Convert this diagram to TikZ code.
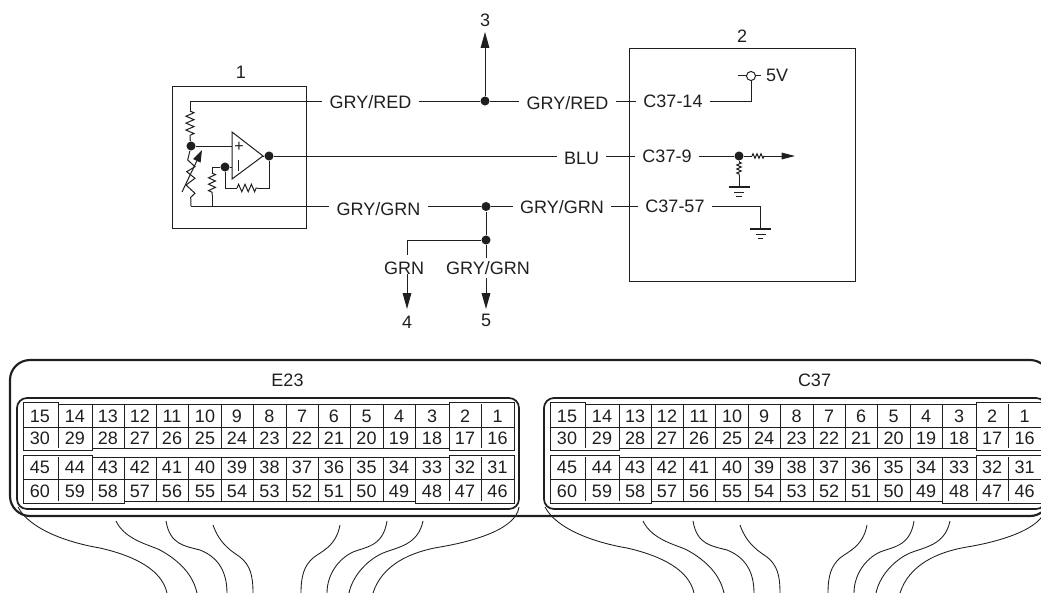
\documentclass[tikz,border=0pt]{standalone}
\usepackage{fontspec}
\setmainfont{Liberation Sans}
\usepackage{xcolor}
\usepackage{tikz}
\usetikzlibrary{arrows.meta, positioning, calc, decorations.pathmorphing}

\definecolor{inkgray}{gray}{0.12}

\begin{document}
\begin{tikzpicture}[x=0.75pt,y=-0.75pt,color=inkgray,line width=0.75pt,
  every node/.style={font=\fontsize{13.5}{15}\selectfont},
  lab/.style={inner xsep=5pt,inner ysep=0pt},
  junc/.style={circle,fill=inkgray,inner sep=0pt,minimum size=6.8pt},
  res/.style={decorate,decoration={zigzag,segment length=5.2pt,amplitude=3pt}},
  smallres/.style={decorate,decoration={zigzag,segment length=3pt,amplitude=1.7pt}},
  tip/.style={-{Triangle[length=12pt,width=6.5pt]}},
  harness/.style={line width=0.65pt},
  groundsym/.pic={
    \draw[line width=1.7pt] (-10.5,0) -- (10.5,0);
    \draw (-5,5) -- (5,5);
    \draw[line width=1.1pt] (-2.8,9.5) -- (2.8,9.5);
  }]
\clip (0,0) rectangle (1041,592);
% Sensor box
\node[draw,minimum width=100.5pt,minimum height=107pt,inner sep=0pt] (sensor) at (239,157.5) {};
\node[lab] (sensorno) at (241,72) {1};
% Op amp
\draw (232,132) -- (263,156) -- (232,179) -- cycle;
\node[inner sep=0pt,font=\fontsize{12}{12}\selectfont] (plus) at (239,147) {+};
\draw (238,160) -- (238,171);
\node[junc] (out) at (269,156) {};
\node[junc] (inv) at (225,167) {};
\node[junc] (mid) at (191,146) {};
\draw (263,156) -- (out);
\draw (mid) -- (232,146);
\draw (inv) -- (232,167);
% Feedback
\coordinate (fba) at (237,188);
\coordinate (fbb) at (258,188);
\draw (out) |- (fbb);
\draw (inv) |- (fba);
\draw[res,decoration={amplitude=2.8pt,segment length=4.8pt}] (fba) -- (fbb);
% Divider and sensing element
\coordinate (topin) at (190,101);
\coordinate (lowin) at (191,206);
\coordinate (shunt) at (212,206);
\draw (topin) -- (190,111);
\draw[res] (190,111) -- (190,138);
\draw (190,138) -- (mid);
\draw (mid) -- (187.7,160) -- (195,166.7) -- (186.7,171.7) -- (195,178.3) -- (186,185) -- (195,193.3) -- (190.7,197.3) -- (lowin);
\draw[-{Triangle[length=9pt,width=6pt]}] (182,192) -- (202,150);
\draw (inv) -| (212,173);
\draw[res,decoration={amplitude=2.6pt,segment length=4.8pt}] (212,173) -- (212,195);
\draw (212,195) -- (shunt);
% Control unit box
\node[draw,minimum width=169pt,minimum height=175pt,inner sep=0pt] (ecm) at (742.5,165) {};
\node[lab] (ecmno) at (742,36) {2};
% Wire labels
\node[lab] (redA) at (370.5,102) {GRY/RED};
\node[lab] (redB) at (567.5,103) {GRY/RED};
\node[lab] (pinA) at (673,101) {C37-14};
\node[lab] (blue) at (581.5,158) {BLU};
\node[lab] (pinB) at (667,156) {C37-9};
\node[lab] (grnA) at (378.5,209) {GRY/GRN};
\node[lab] (grnB) at (562,207) {GRY/GRN};
\node[lab] (pinC) at (675,206) {C37-57};
\node[lab] (grnC) at (404,268) {GRN};
\node[lab] (grnD) at (488,268) {GRY/GRN};
\node[lab] (volt) at (777,75) {5V};
\node[lab] (noA) at (485,20) {3};
\node[lab] (noB) at (407,322) {4};
\node[lab] (noC) at (486,320) {5};
% Upper wire
\node[junc] (jtop) at (485,101) {};
\coordinate (arrowtop) at (485,32);
\draw (topin) -- (redA.west |- topin);
\draw (redA.east |- jtop) -- (jtop);
\draw (jtop) -- (redB.west |- jtop);
\draw (redB.east |- jtop) -- (pinA.west |- jtop);
\draw[tip] (jtop) -- (arrowtop);
% Signal wire
\draw (out) -- (blue.west |- out);
\draw (blue.east |- out) -- (pinB.west |- out);
% Lower wire
\node[junc] (jlow) at (486,206.5) {};
\node[junc] (jdrop) at (486,240) {};
\draw (lowin) -- (grnA.west |- lowin);
\draw (grnA.east |- jlow) -- (jlow);
\draw (jlow) -- (grnB.west |- jlow);
\draw (grnB.east |- jlow) -- (pinC.west |- jlow);
\draw (jlow) -- (jdrop);
\draw (jdrop) -- (486,258);
\draw (jdrop) -| (407,255);
\draw[tip] (407,274) -- (407,309);
\draw[tip] (486,278) -- (486,309);
% Inside control unit
\node[draw,circle,inner sep=0pt,minimum size=6.8pt,fill=white] (supply) at (751,76) {};
\draw (supply.west) -- ++(-8,0);
\draw (supply.east) -- ++(5,0);
\draw (pinA.east |- 0,101) -| (supply.south);
\node[junc] (jsig) at (739,156) {};
\coordinate (rsiga) at (752,156);
\coordinate (rsigb) at (764,156);
\coordinate (sigend) at (795,156);
\draw (pinB.east |- jsig) -- (jsig);
\draw (jsig) -- (rsiga);
\draw[smallres] (rsiga) -- (rsigb);
\draw[-{Triangle[length=10pt,width=5pt]}] (rsigb) -- (sigend);
\coordinate (gnda) at (739,187);
\coordinate (gndb) at (760.5,229);
\draw (jsig) -- (739,162);
\draw[smallres] (739,162) -- (739,175);
\draw (739,175) -- (gnda);
\pic at (gnda) {groundsym};
\draw (pinC.east |- 0,206) -| (gndb);
\pic at (gndb) {groundsym};
% Connector housing
\draw[line width=1.6pt,rounded corners=15pt] (10,360) rectangle (1050,516);
\foreach \pre/\dx in {E23/0,C37/527}{
  \begin{scope}[xshift=\dx*0.75pt]
    \node[lab] (\pre-name) at (287.5,380) {\pre};
    \draw[line width=1.3pt,rounded corners=7.5pt] (17,398) rectangle (519,509);
    % Pin outlines
    \draw (23,402) -- (58,402) -- (58,404.5) -- (449,404.5) -- (449,402) -- (514,402) -- (514,450) -- (449,450) -- (449,448) -- (92,448) -- (92,450) -- (23,450) -- cycle;
    \draw (23,455) -- (92,455) -- (92,457) -- (449,457) -- (449,455) -- (514,455) -- (514,503) -- (415.5,503) -- (415.5,501) -- (124,501) -- (124,503) -- (23,503) -- cycle;
    \draw (23,427) -- (514,427);
    \draw (23,479) -- (514,479);
    \foreach \ex in {58,92,124,156,188.5,221,253,286,318,350,383,415.5,449,481}{
      \draw (\ex,404) -- (\ex,448);
      \draw (\ex,457) -- (\ex,501);
    }
    % Pin numbers
    \foreach \rowy/\first in {416/15,438/30,467/45,491/60}{
      \foreach \cx [count=\i from 0] in {40,75,108,140,172,205,237,269.5,302,334,366.5,399,432,465,497.5}{
        \pgfmathtruncatemacro{\pinno}{\first-\i}
        \node[inner sep=0pt] (\pre-\pinno) at (\cx,\rowy) {\pinno};
      }
    }
    % Harness wires
    \draw[harness] (18,507) .. controls (30,530) and (70,543) .. (100,548) .. controls (135,556) and (162,570) .. (167,593);
    \draw[harness] (116,521) .. controls (125,540) and (150,545) .. (160,550) .. controls (180,561) and (193,575) .. (197,593);
    \draw[harness] (166,521) .. controls (170,545) and (185,546) .. (200,550) .. controls (215,556) and (227,568) .. (227,593);
    \draw[harness] (213,525) .. controls (220,545) and (233,552) .. (240,557) .. controls (250,565) and (253,575) .. (253,593);
    \draw[harness] (340,525) .. controls (336,547) and (320,552) .. (313,558) .. controls (304,566) and (301,576) .. (301,593);
    \draw[harness] (387,521) .. controls (383,547) and (365,547) .. (353,552) .. controls (338,559) and (327,575) .. (327,593);
    \draw[harness] (423,521) .. controls (418,545) and (398,547) .. (383,553) .. controls (365,561) and (352,578) .. (349,593);
    \draw[harness] (519,507) .. controls (516,530) and (470,542) .. (440,547) .. controls (410,552) and (382,565) .. (373,593);
  \end{scope}
}
\end{tikzpicture}
\end{document}
